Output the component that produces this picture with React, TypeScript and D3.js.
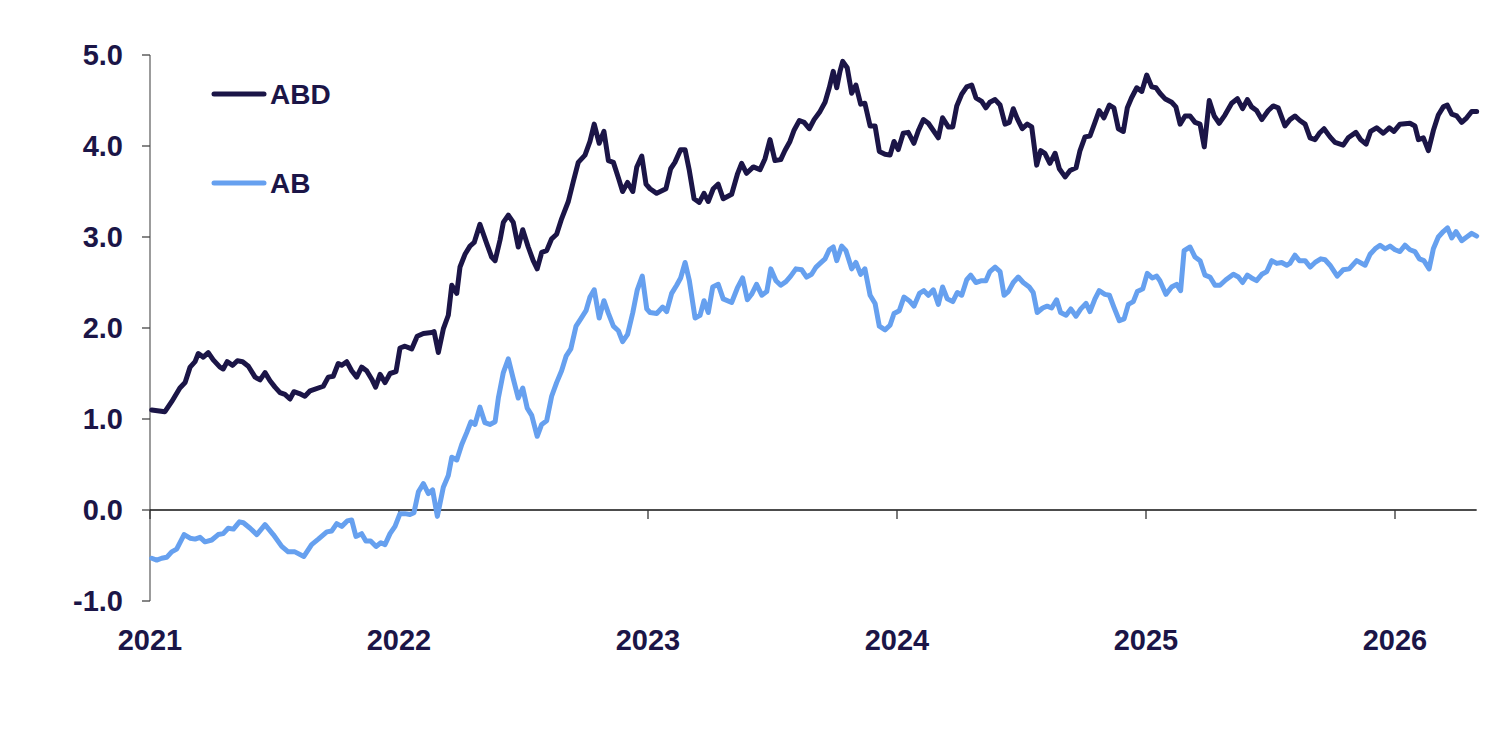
import React from "react";
import * as d3 from "d3";

// Decimal-year positions and values
const abdDates = [
  2021.007, 2021.060, 2021.087, 2021.120, 2021.141, 2021.161, 2021.181, 2021.194, 2021.214, 2021.234,
  2021.254, 2021.281, 2021.294, 2021.310, 2021.332, 2021.351, 2021.372, 2021.395, 2021.422, 2021.442,
  2021.462, 2021.482, 2021.502, 2021.522, 2021.542, 2021.562, 2021.578, 2021.600, 2021.622, 2021.643,
  2021.696, 2021.716, 2021.736, 2021.756, 2021.770, 2021.790, 2021.810, 2021.830, 2021.850, 2021.870,
  2021.890, 2021.906, 2021.924, 2021.944, 2021.964, 2021.988, 2022.004, 2022.024, 2022.051, 2022.073,
  2022.098, 2022.131, 2022.141, 2022.158, 2022.178, 2022.198, 2022.212, 2022.232, 2022.245, 2022.265,
  2022.285, 2022.302, 2022.325, 2022.352, 2022.372, 2022.386, 2022.406, 2022.419, 2022.439, 2022.459,
  2022.479, 2022.497, 2022.519, 2022.539, 2022.555, 2022.573, 2022.593, 2022.613, 2022.633, 2022.653,
  2022.680, 2022.700, 2022.720, 2022.747, 2022.767, 2022.784, 2022.804, 2022.823, 2022.841, 2022.861,
  2022.881, 2022.898, 2022.918, 2022.939, 2022.955, 2022.975, 2022.992, 2023.008, 2023.035, 2023.072,
  2023.091, 2023.108, 2023.131, 2023.149, 2023.166, 2023.185, 2023.206, 2023.225, 2023.242, 2023.262,
  2023.282, 2023.302, 2023.336, 2023.359, 2023.376, 2023.396, 2023.423, 2023.450, 2023.470, 2023.490,
  2023.510, 2023.533, 2023.550, 2023.570, 2023.586, 2023.608, 2023.627, 2023.648, 2023.667, 2023.691,
  2023.711, 2023.728, 2023.744, 2023.758, 2023.771, 2023.782, 2023.800, 2023.818, 2023.835, 2023.854,
  2023.871, 2023.892, 2023.912, 2023.929, 2023.952, 2023.972, 2023.988, 2024.005, 2024.025, 2024.045,
  2024.068, 2024.086, 2024.106, 2024.126, 2024.146, 2024.166, 2024.183, 2024.206, 2024.224, 2024.240,
  2024.260, 2024.280, 2024.300, 2024.317, 2024.340, 2024.357, 2024.373, 2024.394, 2024.414, 2024.434,
  2024.451, 2024.467, 2024.483, 2024.503, 2024.523, 2024.541, 2024.561, 2024.577, 2024.594, 2024.614,
  2024.635, 2024.652, 2024.675, 2024.695, 2024.719, 2024.735, 2024.755, 2024.775, 2024.795, 2024.812,
  2024.831, 2024.853, 2024.871, 2024.889, 2024.909, 2024.925, 2024.942, 2024.963, 2024.983, 2025.003,
  2025.023, 2025.040, 2025.056, 2025.076, 2025.103, 2025.120, 2025.137, 2025.157, 2025.177, 2025.197,
  2025.217, 2025.234, 2025.254, 2025.274, 2025.294, 2025.317, 2025.344, 2025.367, 2025.388, 2025.407,
  2025.424, 2025.444, 2025.465, 2025.491, 2025.511, 2025.531, 2025.558, 2025.578, 2025.598, 2025.618,
  2025.639, 2025.659, 2025.679, 2025.696, 2025.715, 2025.739, 2025.759, 2025.792, 2025.812, 2025.843,
  2025.862, 2025.884, 2025.902, 2025.926, 2025.953, 2025.977, 2025.996, 2026.020, 2026.060, 2026.080,
  2026.094, 2026.114, 2026.134, 2026.154, 2026.174, 2026.194, 2026.210, 2026.228, 2026.248, 2026.268,
  2026.288, 2026.308, 2026.328,
];
const abdValues = [
  1.10, 1.08, 1.19, 1.34, 1.40, 1.57, 1.63, 1.72, 1.68, 1.73,
  1.65, 1.57, 1.55, 1.63, 1.59, 1.64, 1.63, 1.58, 1.46, 1.43,
  1.51, 1.42, 1.35, 1.29, 1.27, 1.22, 1.30, 1.28, 1.25, 1.31,
  1.36, 1.46, 1.47, 1.61, 1.59, 1.63, 1.53, 1.46, 1.57, 1.53,
  1.44, 1.35, 1.49, 1.40, 1.50, 1.52, 1.78, 1.80, 1.77, 1.91,
  1.94, 1.95, 1.96, 1.73, 1.99, 2.14, 2.47, 2.38, 2.67, 2.81,
  2.90, 2.94, 3.14, 2.93, 2.78, 2.74, 2.97, 3.16, 3.24, 3.16,
  2.89, 3.08, 2.89, 2.74, 2.65, 2.83, 2.85, 2.98, 3.03, 3.20,
  3.39, 3.61, 3.82, 3.90, 4.05, 4.24, 4.03, 4.16, 3.84, 3.82,
  3.65, 3.50, 3.60, 3.50, 3.77, 3.89, 3.58, 3.53, 3.48, 3.53,
  3.75, 3.82, 3.96, 3.96, 3.73, 3.42, 3.38, 3.48, 3.39, 3.53,
  3.58, 3.42, 3.47, 3.69, 3.81, 3.70, 3.77, 3.74, 3.86, 4.07,
  3.84, 3.85, 3.95, 4.05, 4.17, 4.28, 4.26, 4.19, 4.29, 4.38,
  4.48, 4.64, 4.82, 4.64, 4.82, 4.93, 4.86, 4.58, 4.67, 4.46,
  4.47, 4.22, 4.22, 3.94, 3.91, 3.90, 4.05, 3.96, 4.14, 4.15,
  4.03, 4.17, 4.29, 4.25, 4.17, 4.09, 4.31, 4.21, 4.21, 4.44,
  4.57, 4.65, 4.67, 4.53, 4.49, 4.42, 4.48, 4.51, 4.45, 4.24,
  4.26, 4.41, 4.30, 4.19, 4.24, 4.21, 3.79, 3.95, 3.92, 3.81,
  3.92, 3.75, 3.66, 3.73, 3.76, 3.95, 4.10, 4.11, 4.26, 4.39,
  4.31, 4.45, 4.42, 4.19, 4.16, 4.42, 4.53, 4.64, 4.60, 4.78,
  4.65, 4.64, 4.58, 4.52, 4.48, 4.43, 4.24, 4.33, 4.33, 4.26,
  4.24, 3.99, 4.50, 4.33, 4.25, 4.34, 4.47, 4.52, 4.41, 4.51,
  4.43, 4.39, 4.29, 4.39, 4.44, 4.42, 4.22, 4.29, 4.33, 4.28,
  4.24, 4.09, 4.07, 4.14, 4.19, 4.10, 4.04, 4.01, 4.09, 4.15,
  4.07, 4.02, 4.16, 4.20, 4.14, 4.20, 4.16, 4.24, 4.25, 4.22,
  4.07, 4.09, 3.95, 4.17, 4.34, 4.43, 4.45, 4.35, 4.33, 4.26,
  4.31, 4.38, 4.38,
];

const abDates = [
  2021.007, 2021.027, 2021.047, 2021.067, 2021.087, 2021.107, 2021.137, 2021.161, 2021.181, 2021.201,
  2021.221, 2021.248, 2021.274, 2021.294, 2021.314, 2021.335, 2021.359, 2021.375, 2021.402, 2021.429,
  2021.462, 2021.495, 2021.529, 2021.555, 2021.582, 2021.618, 2021.649, 2021.676, 2021.710, 2021.730,
  2021.750, 2021.770, 2021.792, 2021.810, 2021.827, 2021.850, 2021.867, 2021.886, 2021.908, 2021.927,
  2021.944, 2021.964, 2021.984, 2022.004, 2022.024, 2022.044, 2022.060, 2022.078, 2022.098, 2022.118,
  2022.135, 2022.154, 2022.178, 2022.198, 2022.212, 2022.232, 2022.252, 2022.272, 2022.289, 2022.305,
  2022.325, 2022.345, 2022.365, 2022.386, 2022.399, 2022.419, 2022.439, 2022.459, 2022.479, 2022.497,
  2022.515, 2022.533, 2022.555, 2022.573, 2022.593, 2022.613, 2022.633, 2022.653, 2022.671, 2022.690,
  2022.711, 2022.730, 2022.751, 2022.767, 2022.784, 2022.804, 2022.823, 2022.841, 2022.861, 2022.881,
  2022.898, 2022.918, 2022.939, 2022.957, 2022.977, 2022.995, 2023.008, 2023.035, 2023.059, 2023.075,
  2023.095, 2023.115, 2023.131, 2023.149, 2023.166, 2023.189, 2023.209, 2023.225, 2023.242, 2023.260,
  2023.282, 2023.302, 2023.336, 2023.359, 2023.380, 2023.399, 2023.416, 2023.436, 2023.457, 2023.477,
  2023.493, 2023.514, 2023.533, 2023.554, 2023.573, 2023.594, 2023.617, 2023.637, 2023.657, 2023.675,
  2023.691, 2023.711, 2023.728, 2023.744, 2023.758, 2023.778, 2023.795, 2023.818, 2023.835, 2023.854,
  2023.871, 2023.892, 2023.912, 2023.929, 2023.952, 2023.972, 2023.988, 2024.009, 2024.028, 2024.049,
  2024.068, 2024.090, 2024.108, 2024.126, 2024.146, 2024.166, 2024.183, 2024.202, 2024.224, 2024.242,
  2024.260, 2024.280, 2024.296, 2024.317, 2024.340, 2024.357, 2024.373, 2024.394, 2024.414, 2024.430,
  2024.447, 2024.467, 2024.487, 2024.507, 2024.531, 2024.547, 2024.563, 2024.585, 2024.603, 2024.621,
  2024.641, 2024.657, 2024.679, 2024.698, 2024.719, 2024.738, 2024.759, 2024.775, 2024.795, 2024.812,
  2024.835, 2024.853, 2024.871, 2024.893, 2024.912, 2024.929, 2024.949, 2024.965, 2024.987, 2025.005,
  2025.025, 2025.043, 2025.056, 2025.080, 2025.103, 2025.123, 2025.139, 2025.153, 2025.177, 2025.197,
  2025.217, 2025.237, 2025.257, 2025.277, 2025.297, 2025.321, 2025.351, 2025.371, 2025.388, 2025.407,
  2025.424, 2025.444, 2025.465, 2025.485, 2025.505, 2025.525, 2025.545, 2025.565, 2025.578, 2025.598,
  2025.616, 2025.639, 2025.659, 2025.679, 2025.702, 2025.719, 2025.739, 2025.768, 2025.792, 2025.816,
  2025.846, 2025.880, 2025.900, 2025.920, 2025.940, 2025.960, 2025.980, 2026.000, 2026.020, 2026.040,
  2026.060, 2026.080, 2026.098, 2026.116, 2026.137, 2026.154, 2026.174, 2026.194, 2026.211, 2026.228,
  2026.245, 2026.268, 2026.288, 2026.308, 2026.328,
];
const abValues = [
  -0.53, -0.55, -0.53, -0.52, -0.46, -0.43, -0.27, -0.31, -0.32, -0.30,
  -0.35, -0.33, -0.27, -0.26, -0.20, -0.21, -0.13, -0.14, -0.20, -0.27,
  -0.16, -0.27, -0.40, -0.46, -0.46, -0.51, -0.38, -0.32, -0.24, -0.23,
  -0.15, -0.18, -0.12, -0.11, -0.29, -0.26, -0.34, -0.34, -0.40, -0.36,
  -0.38, -0.26, -0.18, -0.04, -0.04, -0.05, -0.03, 0.20, 0.29, 0.18,
  0.22, -0.07, 0.25, 0.38, 0.58, 0.55, 0.72, 0.85, 0.97, 0.94,
  1.13, 0.96, 0.94, 0.97, 1.23, 1.51, 1.66, 1.44, 1.23, 1.34,
  1.12, 1.04, 0.81, 0.94, 0.98, 1.25, 1.40, 1.53, 1.69, 1.77,
  2.02, 2.10, 2.19, 2.34, 2.42, 2.11, 2.30, 2.16, 2.02, 1.97,
  1.85, 1.93, 2.17, 2.42, 2.57, 2.21, 2.17, 2.16, 2.23, 2.18,
  2.38, 2.47, 2.55, 2.72, 2.52, 2.11, 2.14, 2.30, 2.17, 2.45,
  2.48, 2.32, 2.28, 2.44, 2.55, 2.31, 2.37, 2.48, 2.36, 2.40,
  2.65, 2.52, 2.47, 2.51, 2.57, 2.65, 2.64, 2.56, 2.59, 2.67,
  2.71, 2.76, 2.86, 2.89, 2.74, 2.90, 2.85, 2.65, 2.72, 2.59,
  2.65, 2.36, 2.27, 2.02, 1.98, 2.03, 2.16, 2.19, 2.34, 2.30,
  2.24, 2.38, 2.41, 2.36, 2.42, 2.26, 2.45, 2.32, 2.29, 2.39,
  2.36, 2.53, 2.58, 2.50, 2.52, 2.52, 2.62, 2.67, 2.62, 2.36,
  2.40, 2.50, 2.56, 2.50, 2.45, 2.39, 2.17, 2.22, 2.24, 2.22,
  2.31, 2.17, 2.14, 2.21, 2.13, 2.21, 2.27, 2.18, 2.32, 2.41,
  2.37, 2.36, 2.23, 2.08, 2.10, 2.26, 2.29, 2.40, 2.43, 2.60,
  2.55, 2.57, 2.52, 2.37, 2.45, 2.48, 2.41, 2.85, 2.89, 2.78,
  2.74, 2.58, 2.56, 2.47, 2.47, 2.53, 2.59, 2.56, 2.50, 2.58,
  2.55, 2.52, 2.59, 2.62, 2.74, 2.71, 2.72, 2.69, 2.71, 2.80,
  2.74, 2.74, 2.67, 2.72, 2.76, 2.75, 2.69, 2.57, 2.64, 2.65,
  2.74, 2.69, 2.81, 2.87, 2.91, 2.87, 2.90, 2.86, 2.84, 2.91,
  2.86, 2.84, 2.76, 2.74, 2.65, 2.87, 3.00, 3.06, 3.10, 2.99,
  3.06, 2.96, 3.00, 3.04, 3.01,
];

const yTicks = [-1, 0, 1, 2, 3, 4, 5];
const xTicks = [2021, 2022, 2023, 2024, 2025, 2026];
const seriesNames = ["ABD", "AB"];

const NAVY = "#1b1547";
const BLUE = "#66a0ef";
const FONT = "'Liberation Sans', Arial, sans-serif";

export default function App() {
  const width = 1509;
  const height = 736;
  const x = d3.scaleLinear().domain([2021, 2026]).range([150, 1395]);
  const y = d3.scaleLinear().domain([-1, 5]).range([601, 55]);
  const xEnd = x(d3.max(abdDates) as number);

  const line = d3
    .line<[number, number]>()
    .x((d) => x(d[0]))
    .y((d) => y(d[1]));

  const abdPts = abdDates.map((d, i) => [d, abdValues[i]] as [number, number]);
  const abPts = abDates.map((d, i) => [d, abValues[i]] as [number, number]);

  const series = [
    { name: seriesNames[0], pts: abdPts, color: NAVY },
    { name: seriesNames[1], pts: abPts, color: BLUE },
  ];

  return (
    <svg
      width={width}
      height={height}
      style={{ position: "absolute", left: 0, top: 0, background: "#fff" }}
      fontFamily={FONT}
    >
      {/* y axis */}
      <line x1={150} x2={150} y1={y(5)} y2={y(-1)} stroke="#666" strokeWidth={1.3} />
      {yTicks.map((t) => (
        <g key={t}>
          <line x1={142} x2={150} y1={y(t)} y2={y(t)} stroke="#444" strokeWidth={1.3} />
          <text
            x={123}
            y={y(t)}
            dy="0.36em"
            textAnchor="end"
            fontSize={29}
            fontWeight="bold"
            fill={NAVY}
          >
            {t.toFixed(1)}
          </text>
        </g>
      ))}
      {/* x axis at zero */}
      <line x1={150} x2={xEnd} y1={y(0)} y2={y(0)} stroke="#111" strokeWidth={1.6} />
      {xTicks.map((t) => (
        <g key={t}>
          <line x1={x(t)} x2={x(t)} y1={y(0)} y2={y(0) + 9} stroke="#333" strokeWidth={1.3} />
          <text
            x={x(t)}
            y={650}
            textAnchor="middle"
            fontSize={29}
            fontWeight="bold"
            fill={NAVY}
          >
            {t}
          </text>
        </g>
      ))}
      {/* series lines */}
      {series.map((s) => (
        <path
          key={s.name}
          d={line(s.pts) || ""}
          fill="none"
          stroke={s.color}
          strokeWidth={5}
          strokeLinejoin="round"
          strokeLinecap="round"
        />
      ))}
      {/* legend */}
      {series.map((s, i) => (
        <g key={s.name} transform={`translate(0, ${94 + i * 89})`}>
          <line x1={214} x2={264} y1={0} y2={0} stroke={s.color} strokeWidth={5} strokeLinecap="round" />
          <text x={270} y={0} dy="0.36em" fontSize={28} fontWeight="bold" fill={NAVY}>
            {s.name}
          </text>
        </g>
      ))}
    </svg>
  );
}
